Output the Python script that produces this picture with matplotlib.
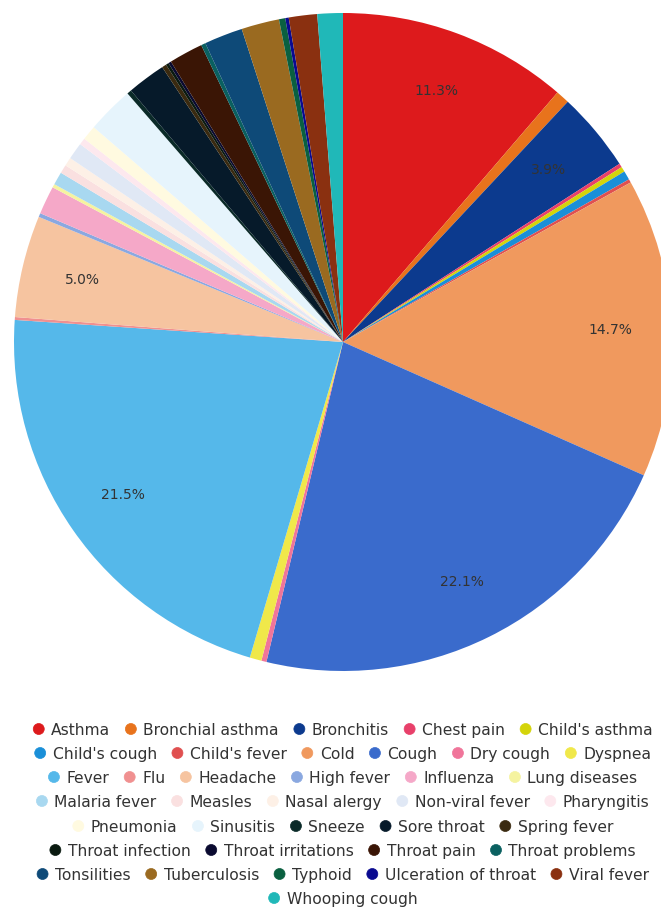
import matplotlib
matplotlib.use("Agg")
import matplotlib.pyplot as plt

categories = ["Asthma", "Bronchial asthma", "Bronchitis", "Chest pain", "Child's asthma",
              "Child's cough", "Child's fever", "Cold", "Cough", "Dry cough", "Dyspnea",
              "Fever", "Flu", "Headache", "High fever", "Influenza", "Lung diseases",
              "Malaria fever", "Measles", "Nasal alergy", "Non-viral fever", "Pharyngitis",
              "Pneumonia", "Sinusitis", "Sneeze", "Sore throat", "Spring fever",
              "Throat infection", "Throat irritations", "Throat pain", "Throat problems",
              "Tonsilities", "Tuberculosis", "Typhoid", "Ulceration of throat",
              "Viral fever", "Whooping cough"]

values = [11.3, 0.67, 3.92, 0.19, 0.25,
          0.44, 0.17, 14.7, 22.1, 0.25, 0.58,
          21.5, 0.14, 5.0, 0.19, 1.39, 0.17,
          0.64, 0.42, 0.42, 0.83, 0.33,
          0.72, 2.31, 0.22, 1.89, 0.22,
          0.14, 0.14, 1.67, 0.22,
          1.89, 1.86, 0.31, 0.17,
          1.39, 1.25]

colors = ["#dd1a1c", "#e8731c", "#0c3a8e", "#e8406a", "#d4d40a",
          "#1a8fd8", "#e05050", "#f0995e", "#3a6bcc", "#f0759a", "#f0e84a",
          "#55b8ea", "#f09090", "#f6c4a0", "#8aa8e0", "#f5a8c8", "#f5f3a0",
          "#a8d8f0", "#fae0e0", "#fdf0e6", "#e0e8f5", "#fde8ee",
          "#fffae0", "#e6f4fc", "#0a2a28", "#061a2a", "#3a2a10",
          "#0a1a10", "#0a0a30", "#3a1505", "#0a6060",
          "#0e4a78", "#9a6a20", "#0a6040", "#0a0a90",
          "#8a3010", "#20b8b8"]

legend_rows = [
    ["Asthma", "Bronchial asthma", "Bronchitis", "Chest pain", "Child's asthma"],
    ["Child's cough", "Child's fever", "Cold", "Cough", "Dry cough", "Dyspnea"],
    ["Fever", "Flu", "Headache", "High fever", "Influenza", "Lung diseases"],
    ["Malaria fever", "Measles", "Nasal alergy", "Non-viral fever", "Pharyngitis"],
    ["Pneumonia", "Sinusitis", "Sneeze", "Sore throat", "Spring fever"],
    ["Throat infection", "Throat irritations", "Throat pain", "Throat problems"],
    ["Tonsilities", "Tuberculosis", "Typhoid", "Ulceration of throat", "Viral fever"],
    ["Whooping cough"],
]

W, H = 661, 910
fig = plt.figure(figsize=(W / 100, H / 100), dpi=100)

cx, cy, r = 343, 342, 329
ax = fig.add_axes([(cx - r) / W, 1 - (cy + r) / H, 2 * r / W, 2 * r / H])

def fmt(p):
    return f"{p:.1f}%" if p >= 3.5 else ""

wedges, texts, autotexts = ax.pie(values, colors=colors, startangle=90, counterclock=False,
                                  autopct=fmt, pctdistance=0.815,
                                  wedgeprops=dict(linewidth=0),
                                  textprops=dict(color="#333333", fontsize=10))
ax.set_xlim(-1, 1)
ax.set_ylim(-1, 1)
ax.set_aspect("equal")
ax.axis("off")

# manual flowing legend
fs = 11.2
renderer = fig.canvas.get_renderer()
row_y = [729, 753, 777, 801, 826, 850, 874, 898]
cmap = dict(zip(categories, colors))
circ_d = 11
gap_ct = 7
gap_items = 15
for row, y in zip(legend_rows, row_y):
    widths = []
    for name in row:
        t = fig.text(0, 0, name, fontsize=fs)
        bb = t.get_window_extent(renderer=renderer)
        widths.append(bb.width)
        t.remove()
    total = sum(circ_d + gap_ct + w for w in widths) + gap_items * (len(row) - 1)
    x = 343 - total / 2
    for name, w in zip(row, widths):
        fig.patches.append(matplotlib.patches.Ellipse(((x + circ_d / 2) / W, 1 - y / H),
                                                      circ_d / W, circ_d / H,
                                                      transform=fig.transFigure,
                                                      facecolor=cmap[name], edgecolor=cmap[name],
                                                      linewidth=0.5))
        fig.text((x + circ_d + gap_ct) / W, 1 - y / H, name, fontsize=fs, color="#333333",
                 va="center_baseline", ha="left")
        x += circ_d + gap_ct + w + gap_items

fig.savefig("out.png", dpi=100)
